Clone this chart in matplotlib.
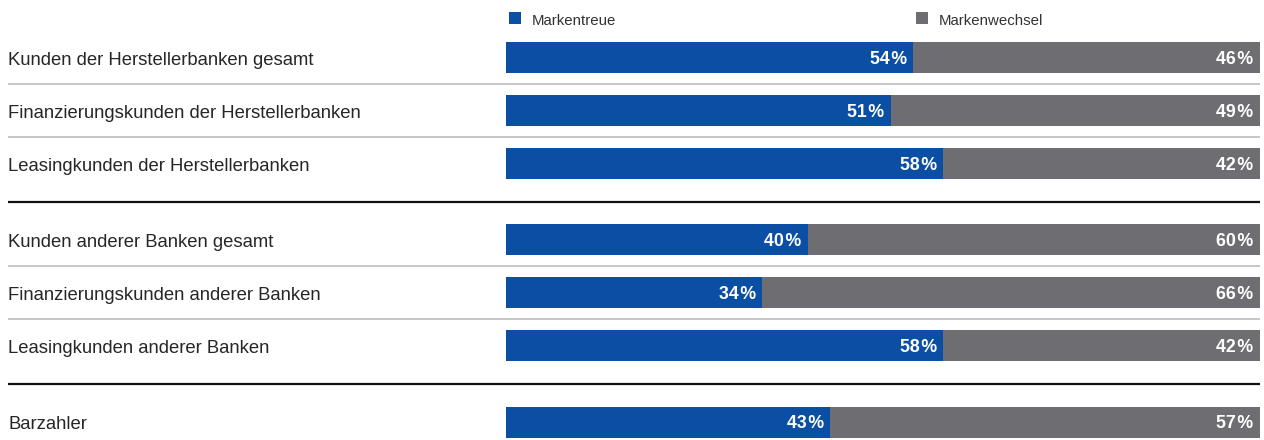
import matplotlib
matplotlib.use("Agg")
import matplotlib.pyplot as plt
from matplotlib.patches import Rectangle
from matplotlib.transforms import blended_transform_factory

plt.rcParams['font.family'] = ['Liberation Sans', 'DejaVu Sans']

categories = [
    "Kunden der Herstellerbanken gesamt",
    "Finanzierungskunden der Herstellerbanken",
    "Leasingkunden der Herstellerbanken",
    "Kunden anderer Banken gesamt",
    "Finanzierungskunden anderer Banken",
    "Leasingkunden anderer Banken",
    "Barzahler",
]
groups = [0, 0, 0, 1, 1, 1, 2]
markentreue = [54, 51, 58, 40, 34, 58, 43]
markenwechsel = [46, 49, 42, 60, 66, 42, 57]
series_names = ["Markentreue", "Markenwechsel"]

BLUE = "#0A4FA3"
GRAY = "#6E6E72"

W, H = 1264, 440
fig = plt.figure(figsize=(W / 100, H / 100), dpi=100)

x0_px, x1_px = 506, 1260
row_px = 53.0
first_px = 58.0
gap = 23.0 / row_px

pos = [i + gap * g for i, g in enumerate(groups)]
top = -first_px / row_px
bottom = (H - first_px) / row_px

ax = fig.add_axes([x0_px / W, 0, (x1_px - x0_px) / W, 1])
ax.set_xlim(0, 100)
ax.set_ylim(bottom, top)
ax.axis("off")

bh = 31.0 / row_px
ax.barh(pos, markentreue, height=bh, color=BLUE, linewidth=0)
ax.barh(pos, markenwechsel, left=markentreue, height=bh, color=GRAY, linewidth=0)

pad = 0.85
for p, a, b in zip(pos, markentreue, markenwechsel):
    ax.text(a - pad, p + 0.03, f"{a}\u200a%", color="white", fontweight="bold",
            fontsize=12.8, ha="right", va="center")
    ax.text(a + b - pad, p + 0.03, f"{b}\u200a%", color="white", fontweight="bold",
            fontsize=12.8, ha="right", va="center")

lbl_tr = blended_transform_factory(fig.transFigure, ax.transData)
for p, c in zip(pos, categories):
    ax.text(8 / W, p + 0.04, c, transform=lbl_tr, fontsize=13.3, color="#262626",
            ha="left", va="center")

# separators
line_x = [8 / W, x1_px / W]
for i in range(len(pos) - 1):
    mid = (pos[i] + pos[i + 1]) / 2
    if groups[i] == groups[i + 1]:
        ax.plot(line_x, [mid, mid], transform=lbl_tr, color="#BDBDBD", lw=1.2,
                clip_on=False, solid_capstyle="butt")
    else:
        ax.plot(line_x, [mid, mid], transform=lbl_tr, color="#111111", lw=1.6,
                clip_on=False, solid_capstyle="butt")

# legend
leg_y = 1 - 18 / H
sq = 12
for xpx, name, col in [(509, series_names[0], BLUE), (916, series_names[1], GRAY)]:
    fig.patches.append(Rectangle((xpx / W, 1 - 24 / H), sq / W, sq / H,
                                 transform=fig.transFigure, color=col, lw=0))
    fig.text((xpx + 23) / W, leg_y - 0.006, name, fontsize=10.8, color="#333333",
             ha="left", va="center")

fig.savefig("out.png", dpi=100, facecolor="white")
